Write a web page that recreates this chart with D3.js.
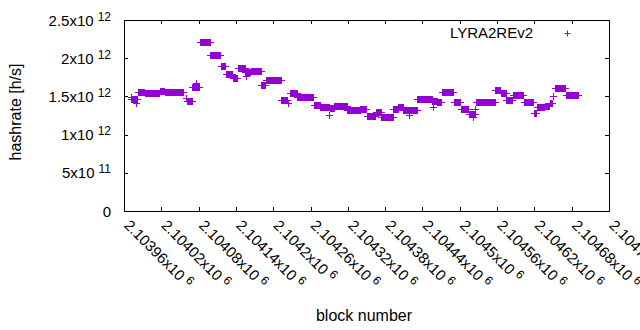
<!DOCTYPE html>
<html><head><meta charset="utf-8">
<script src="https://cdn.jsdelivr.net/npm/d3@7"></script>
<style>
body{margin:0;background:#fff;}
svg{display:block;font-family:"Liberation Sans",Arial,sans-serif;}
</style>
</head><body>
<svg id="chart" width="640" height="330"></svg>
<script>
// ---- data (hashrate in units of 1e12 h/s), runs of blocks with the same estimate ----
const runStart = [2103972,2103983,2103993,2104006,2104018,2104026,2104061,2104070,2104082,2104099,
  2104116,2104124,2104135,2104144,2104155,2104164,2104181,2104188,2104213,2104227,
  2104239,2104265,2104276,2104291,2104298,2104319,2104340,2104350,2104365,2104374,
  2104393,2104401,2104409,2104432,2104456,2104464,2104471,2104490,2104502,2104515,
  2104526,2104557,2104566,2104575,2104585,2104603,2104619,2104624,2104637,2104645,
  2104653,2104671];
const runEnd = [2103981,2103992,2104005,2104016,2104025,2104055,2104069,2104080,2104098,2104115,
  2104123,2104134,2104142,2104154,2104163,2104180,2104187,2104212,2104222,2104238,
  2104264,2104275,2104289,2104297,2104318,2104339,2104349,2104364,2104373,2104392,
  2104400,2104408,2104431,2104455,2104463,2104470,2104489,2104501,2104514,2104524,
  2104556,2104565,2104574,2104584,2104602,2104618,2104623,2104636,2104644,2104649,
  2104669,2104690];
const runValue = [1.462,1.562,1.548,1.541,1.575,1.554,1.440,1.619,2.208,2.038,
  1.894,1.789,1.745,1.868,1.823,1.832,1.645,1.711,1.449,1.541,
  1.488,1.384,1.365,1.344,1.374,1.322,1.331,1.243,1.300,1.226,
  1.331,1.357,1.322,1.466,1.440,1.427,1.564,1.431,1.331,1.270,
  1.421,1.588,1.545,1.457,1.514,1.431,1.287,1.357,1.370,1.414,
  1.610,1.514];
const pointBlock = [2103971,2103980,2104059,2104075,2104156,2104223,2104290,2104418,2104457,2104521,2104525,2104650];
const pointValue = [1.492,1.414,1.475,1.675,1.767,1.414,1.257,1.257,1.361,1.230,1.340,1.505];

const xTicks = [2103960,2104020,2104080,2104140,2104200,2104260,2104320,2104380,2104440,2104500,2104560,2104620,2104680,2104740];
const xTickLabels = ["2.10396","2.10402","2.10408","2.10414","2.1042","2.10426","2.10432","2.10438","2.10444","2.1045","2.10456","2.10462","2.10468","2.10474"];
const xTickExponent = "6";
const yTicks = [0,0.5e12,1e12,1.5e12,2e12,2.5e12];
const yTickMantissa = ["0","5","1","1.5","2","2.5"];
const yTickExponent = ["","11","12","12","12","12"];
const seriesName = "LYRA2REv2";
const xTitle = "block number";
const yTitle = "hashrate [h/s]";

// ---- build point table ----
const pts = [];
runStart.forEach((s,i)=>{ for(let b=s;b<=runEnd[i];b++) pts.push({b, v: runValue[i]*1e12}); });
pointBlock.forEach((b,i)=>pts.push({b, v: pointValue[i]*1e12}));

const svg = d3.select("#chart");
const L=124, R=609, T=20, B=211;
const x = d3.scaleLinear().domain([2103960,2104740]).range([L,R]);
const y = d3.scaleLinear().domain([0,2.5e12]).range([B,T]);
const purple = "#9400d3";

// frame
svg.append("rect").attr("x",L+0.5).attr("y",T+0.5).attr("width",R-L).attr("height",B-T)
  .attr("fill","none").attr("stroke","#000").attr("stroke-width",1).attr("shape-rendering","crispEdges");

function styleAxis(g){ g.select(".domain").remove(); g.selectAll("line").attr("stroke","#000").attr("shape-rendering","crispEdges"); }

svg.append("g").attr("transform",`translate(0,${B})`).call(d3.axisBottom(x).tickValues(xTicks).tickSize(-4).tickFormat("")).call(styleAxis);
svg.append("g").attr("transform",`translate(0,${T})`).call(d3.axisTop(x).tickValues(xTicks).tickSize(-4).tickFormat("")).call(styleAxis);
svg.append("g").attr("transform",`translate(${L},0)`).call(d3.axisLeft(y).tickValues(yTicks).tickSize(-4).tickFormat("")).call(styleAxis);
svg.append("g").attr("transform",`translate(${R},0)`).call(d3.axisRight(y).tickValues(yTicks).tickSize(-4).tickFormat("")).call(styleAxis);

// y tick labels
yTicks.forEach((v,i)=>{
  const t = svg.append("text").attr("x",111).attr("y",y(v)+5.5).attr("text-anchor","end")
    .attr("font-size",15).attr("fill","#000");
  if(yTickExponent[i]){
    t.append("tspan").text(yTickMantissa[i]+"x10");
    t.append("tspan").attr("font-size",12).attr("dx",4).attr("dy",-5).text(yTickExponent[i]);
  } else t.text(yTickMantissa[i]);
});

// x tick labels (rotated, as in the reference the last one runs off the right edge)
xTicks.forEach((v,i)=>{
  const t = svg.append("text").attr("transform",`translate(${x(v)+3},222.5) rotate(45)`)
    .attr("font-size",15).attr("fill","#000").attr("dy","0.35em");
  t.append("tspan").text(xTickLabels[i]+"x10");
  t.append("tspan").attr("font-size",12).attr("dx",4).attr("dy",-5).text(xTickExponent);
});

// axis titles
svg.append("text").attr("transform","translate(21,112) rotate(-90)").attr("text-anchor","middle")
  .attr("font-size",16).attr("fill","#000").text(yTitle);
svg.append("text").attr("x",364).attr("y",321).attr("text-anchor","middle")
  .attr("font-size",16).attr("fill","#000").text(xTitle);

// markers
const plus = "M-3.5,0H3.5M0,-3.5V3.5";
svg.append("g").selectAll("path").data(pts).join("path")
  .attr("transform",d=>`translate(${Math.round(x(d.b))+0.5},${Math.round(y(d.v))+0.5})`)
  .attr("d",plus).attr("fill","none").attr("stroke",purple).attr("stroke-width",1);

// legend
svg.append("text").attr("x",533).attr("y",37.5).attr("text-anchor","end").attr("font-size",15)
  .attr("fill","#000").text(seriesName);
svg.append("path").attr("transform","translate(567.5,33.5)").attr("d","M-3,0H3M0,-3V3")
  .attr("fill","none").attr("stroke",purple).attr("stroke-width",1);
</script>
</body></html>
